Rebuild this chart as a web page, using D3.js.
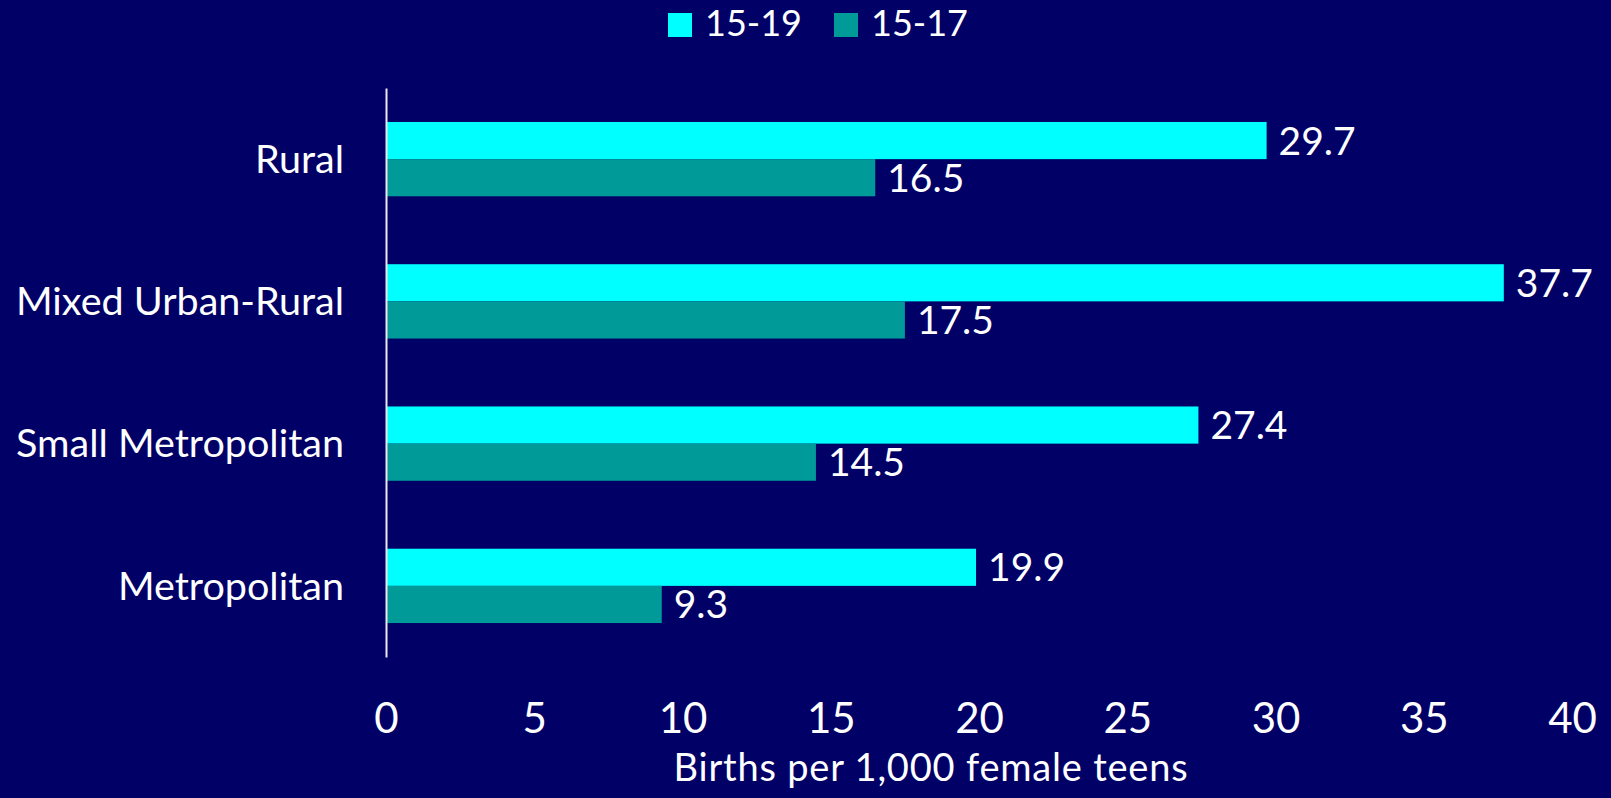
<!DOCTYPE html>
<html>
<head>
<meta charset="utf-8">
<script src="https://cdn.jsdelivr.net/npm/d3@7"></script>
<style>
  html, body { margin: 0; padding: 0; background: #000066; }
  svg { display: block; }
  text { font-family: Lato, "Open Sans", sans-serif; fill: #ffffff; }
</style>
</head>
<body>
<svg id="chart" width="1611" height="798"></svg>
<script>
const categories = ["Rural", "Mixed Urban-Rural", "Small Metropolitan", "Metropolitan"];
const seriesNames = ["15-19", "15-17"];
const values1519 = [29.7, 37.7, 27.4, 19.9];
const values1517 = [16.5, 17.5, 14.5, 9.3];
const xTicks = [0, 5, 10, 15, 20, 25, 30, 35, 40];
const xTitle = "Births per 1,000 female teens";
const colors = ["#00ffff", "#009a98"];

const svg = d3.select("#chart");
const W = 1611, H = 798;
svg.append("rect").attr("width", W).attr("height", H).attr("fill", "#000066");

const x = d3.scaleLinear().domain([0, 40]).range([386, 1572]);
const y = d3.scaleBand().domain(categories).range([88, 657]).padding(0);
const ySub = d3.scaleBand().domain(seriesNames).range([0, y.bandwidth()])
  .paddingInner(0).paddingOuter(0.914);

const data = categories.map((c, i) => ({
  cat: c,
  vals: [{s: "15-19", v: values1519[i]}, {s: "15-17", v: values1517[i]}]
}));

const groups = svg.append("g").selectAll("g").data(data).join("g")
  .attr("transform", d => `translate(0,${y(d.cat)})`);

groups.selectAll("rect").data(d => d.vals).join("rect")
  .attr("x", x(0))
  .attr("y", d => ySub(d.s))
  .attr("width", d => x(d.v) - x(0))
  .attr("height", ySub.bandwidth())
  .attr("fill", (d, i) => colors[i]);

groups.selectAll("text.val").data(d => d.vals).join("text")
  .attr("class", "val")
  .attr("x", d => x(d.v) + 12)
  .attr("y", d => ySub(d.s) + ySub.bandwidth() / 2 + 14)
  .attr("font-size", 39)
  .text(d => d.v.toFixed(1));

// Y axis (category labels + vertical line)
const yAxis = d3.axisLeft(y).tickSize(0).tickPadding(42);
const yg = svg.append("g").attr("transform", `translate(${x(0)},0)`).call(yAxis);
yg.select(".domain").attr("stroke", "#e8e8f0").attr("stroke-width", 2);
yg.selectAll("text").attr("font-size", 39.5).attr("fill", "#fff")
  .attr("font-family", "Lato, 'Open Sans', sans-serif").attr("dy", "0.35em");

// X axis (tick labels only)
const xAxis = d3.axisBottom(x).tickValues(xTicks).tickSize(0).tickPadding(0).tickFormat(d3.format("d"));
const xg = svg.append("g").attr("transform", `translate(0,733)`).call(xAxis);
xg.select(".domain").remove();
xg.selectAll("text").attr("font-size", 42).attr("fill", "#fff")
  .attr("font-family", "Lato, 'Open Sans', sans-serif").attr("dy", 0).attr("y", 0);

svg.append("text").attr("x", 931).attr("y", 781).attr("text-anchor", "middle")
  .attr("font-size", 38).attr("letter-spacing", 0.8).text(xTitle);

// Legend
const legendX = [668, 834];
const lg = svg.append("g").selectAll("g").data(seriesNames).join("g")
  .attr("transform", (d, i) => `translate(${legendX[i]},13)`);
lg.append("rect").attr("width", 24).attr("height", 24).attr("fill", (d, i) => colors[i]);
lg.append("text").attr("x", 37).attr("y", 23).attr("font-size", 36).text(d => d);
</script>
</body>
</html>
